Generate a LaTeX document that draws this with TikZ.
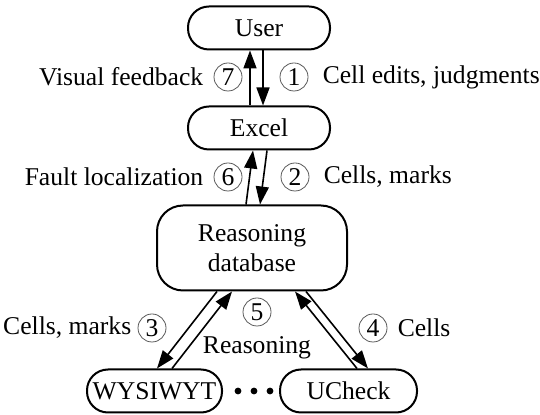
\documentclass[tikz,border=0pt]{standalone}
\usepackage{fontspec}
\setmainfont{Liberation Serif}
\usetikzlibrary{arrows.meta,positioning}

\tikzset{
  box/.style={draw,line width=1pt,rounded corners=10.5pt,minimum height=21.5pt,inner sep=1pt},
  bigbox/.style={draw,line width=1pt,rounded corners=13pt,minimum width=95pt,minimum height=42.5pt,align=center},
  num/.style={draw,gray!70!black,line width=0.4pt,circle,minimum size=14pt,inner sep=0pt,text=black},
  lbl/.style={inner sep=0pt},
  flow/.style={line width=0.8pt,-{Triangle[length=9pt,width=6.5pt]}}
}

\begin{document}
\begin{tikzpicture}[x=0.5pt,y=-0.5pt,font=\fontsize{12.8}{15}\selectfont]
    \useasboundingbox (0,0) rectangle (540,415);
    % boxes
    \node[box,minimum width=71pt] (user) at (259,28) {User};
    \node[box,minimum width=71pt] (excel) at (259,128) {Excel};
    \node[bigbox] (db) at (252,248) {Reasoning\\database};
    \node[box,minimum width=67.5pt,inner sep=0pt] (wys) at (154.5,391) {WYSIWYT};
    \node[box,minimum width=68.5pt] (uc) at (348.5,391) {UCheck};
    \foreach \x/\n in {238/a,254/b,270/c}
      \fill (\x,391) circle (1.7pt) coordinate (dot\n);

    % user <-> excel
    \draw[flow] ([xshift=-4.5pt]excel.north) -- ([xshift=-4.5pt]user.south);
    \draw[flow] ([xshift=2pt]user.south) -- ([xshift=2pt]excel.north);
    \node[num] (n7) at (228,77) {7};
    \node[lbl,left=5pt of n7] {Visual feedback};
    \node[num] (n1) at (294,77) {1};
    \node[lbl,right=7pt of n1] {Cell edits, judgments};

    % excel <-> db
    \draw[flow] ([xshift=-3pt]db.north) -- ([xshift=-3pt]excel.south);
    \draw[flow] ([xshift=4pt]excel.south) -- ([xshift=4pt]db.north);
    \node[num] (n6) at (228,177) {6};
    \node[lbl,left=5pt of n6] {Fault localization};
    \node[num] (n2) at (295,177) {2};
    \node[lbl,right=7pt of n2] {Cells, marks};

    % db <-> checkers
    \draw[flow] ([xshift=-17.5pt]db.south) -- ([xshift=1.25pt]wys.north);
    \draw[flow] ([xshift=8.75pt]wys.north) -- ([xshift=-10pt]db.south);
    \draw[flow] ([xshift=4.25pt]uc.north) -- ([xshift=21.5pt]db.south);
    \draw[flow] ([xshift=27pt]db.south) -- ([xshift=9.75pt]uc.north);
    \node[num] (n3) at (152,328) {3};
    \node[lbl,left=3pt of n3] {Cells, marks};
    \node[num] (n5) at (257,312) {5};
    \node[lbl,below=5pt of n5] (rsn) {Reasoning};
    \node[num] (n4) at (373,328) {4};
    \node[lbl,right=5pt of n4] {Cells};
\end{tikzpicture}
\end{document}
